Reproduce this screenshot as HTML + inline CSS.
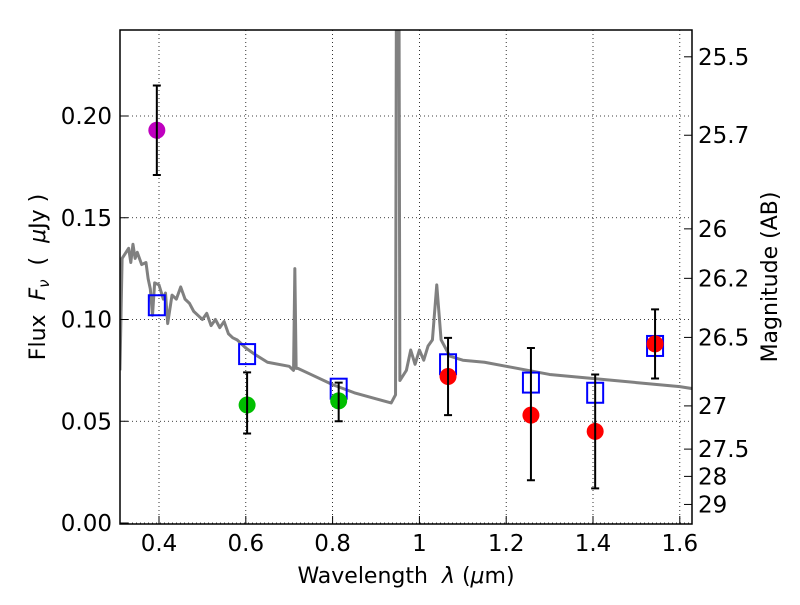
<!DOCTYPE html>
<html><head><meta charset="utf-8"><style>
body{margin:0;background:#fff}
svg{font-family:"DejaVu Sans","Liberation Sans",sans-serif}
.pre{white-space:pre}
</style></head><body>
<svg id="c" width="800" height="600" viewBox="0 0 800 600">
<defs><clipPath id="clip"><rect x="120" y="30" width="572" height="494"/></clipPath></defs>
<g id="grid"></g>
<g id="plot" clip-path="url(#clip)"></g>
<rect x="120" y="30" width="572" height="494" fill="none" stroke="#000" stroke-width="1.5"/>
<g id="ticks"></g>
<text class="pre" x="406" y="583" font-size="22" text-anchor="middle">Wavelength  <tspan font-style="italic">λ</tspan> (<tspan font-style="italic">μ</tspan>m)</text>
<text class="pre" transform="translate(45,277) rotate(-90)" font-size="22" text-anchor="middle">Flux  <tspan font-style="italic">F<tspan font-size="15" dy="4">ν</tspan></tspan><tspan dy="-4">  (  </tspan><tspan font-style="italic">μ</tspan>Jy )</text>
<text transform="translate(777,277) rotate(-90)" font-size="22" text-anchor="middle">Magnitude (AB)</text>
</svg>
<script>
const xTicks=[0.4,0.6,0.8,1.0,1.2,1.4,1.6];
const xTickLabels=["0.4","0.6","0.8","1","1.2","1.4","1.6"];
const yTicks=[0,0.05,0.10,0.15,0.20];
const yTickLabels=["0.00","0.05","0.10","0.15","0.20"];
const magTicks=[25.5,25.7,26,26.2,26.5,27,27.5,28,29];
const magTickLabels=["25.5","25.7","26","26.2","26.5","27","27.5","28","29"];
const specWave=[0.31,0.315,0.33,0.335,0.34,0.345,0.35,0.36,0.37,0.375,0.38,0.385,0.39,0.4,0.41,0.415,0.42,0.43,0.44,0.45,0.46,0.47,0.48,0.49,0.5,0.51,0.52,0.53,0.54,0.55,0.56,0.57,0.58,0.6,0.62,0.65,0.7,0.71,0.713,0.716,0.72,0.75,0.8,0.85,0.9,0.935,0.945,0.947,0.953,0.955,0.97,0.98,0.99,1.0,1.01,1.02,1.03,1.04,1.05,1.07,1.1,1.15,1.2,1.3,1.4,1.5,1.6,1.63];
const specFlux=[0.075,0.13,0.135,0.128,0.137,0.13,0.133,0.127,0.128,0.12,0.115,0.102,0.118,0.117,0.11,0.113,0.098,0.112,0.11,0.116,0.11,0.108,0.104,0.102,0.1,0.103,0.097,0.1,0.096,0.099,0.093,0.091,0.09,0.086,0.083,0.079,0.077,0.075,0.125,0.076,0.076,0.073,0.068,0.064,0.061,0.059,0.063,0.26,0.26,0.07,0.075,0.085,0.078,0.085,0.08,0.087,0.09,0.117,0.09,0.082,0.08,0.079,0.077,0.073,0.071,0.069,0.067,0.066];
const modelWave=[0.395,0.603,0.814,1.066,1.257,1.405,1.543];
const modelFlux=[0.107,0.083,0.066,0.078,0.069,0.064,0.087];
const obsWave=[0.395,0.603,0.814,1.066,1.257,1.405,1.543];
const obsFlux=[0.193,0.058,0.060,0.072,0.053,0.045,0.088];
const obsLo=[0.171,0.044,0.050,0.053,0.021,0.017,0.071];
const obsHi=[0.215,0.074,0.069,0.091,0.086,0.073,0.105];
const obsColor=["#bf00bf","#00bf00","#00bf00","#ff0000","#ff0000","#ff0000","#ff0000"];
const NS="http://www.w3.org/2000/svg";
const X=v=>159+(v-0.4)*434;
const Y=v=>523-v*2035;
function mk(tag,attrs,parent){const e=document.createElementNS(NS,tag);for(const k in attrs)e.setAttribute(k,attrs[k]);document.getElementById(parent).appendChild(e);return e;}
xTicks.forEach((t,i)=>{
 const g=mk('line',{x1:X(t),x2:X(t),y1:30,y2:524,stroke:'#000','stroke-dasharray':'1,3','stroke-width':0.8},'grid');
 
 const tk=mk('line',{x1:X(t),x2:X(t),y1:524,y2:516,stroke:'#000'},'ticks');
 
 const tx=mk('text',{x:X(t),y:551,'font-size':23,'text-anchor':'middle'},'ticks');tx.textContent=xTickLabels[i];
 
});
yTicks.forEach((t,i)=>{
 const g=mk('line',{x1:120,x2:692,y1:Y(t),y2:Y(t),stroke:'#000','stroke-dasharray':'1,3','stroke-width':0.8},'grid');
 
 const tk=mk('line',{x1:120,x2:128,y1:Y(t),y2:Y(t),stroke:'#000'},'ticks');
 
 const tx=mk('text',{x:112,y:Y(t)+8,'font-size':23,'text-anchor':'end'},'ticks');tx.textContent=yTickLabels[i];
 
});
magTicks.forEach((m,i)=>{
 const y=Y(Math.pow(10,(23.9-m)/2.5));
 const tk=mk('line',{x1:684,x2:692,y1:y,y2:y,stroke:'#000'},'ticks');
 
 const tx=mk('text',{x:698,y:y+8,'font-size':23},'ticks');tx.textContent=magTickLabels[i];
 
});
const sp=mk('polyline',{points:specWave.map((w,i)=>X(w)+','+Y(specFlux[i])).join(' '),fill:'none',stroke:'#808080','stroke-width':3,'stroke-linejoin':'round'},'plot');

modelWave.forEach((w,i)=>{
 const r=mk('rect',{x:X(w)-8,y:Y(modelFlux[i])-10,width:16,height:20,fill:'none',stroke:'#0000ff','stroke-width':2},'plot');
 
});
obsWave.forEach((w,i)=>{
 const x=X(w);
 const c=mk('circle',{cx:x,cy:Y(obsFlux[i]),r:8.5,fill:obsColor[i]},'plot');
 
 const e=mk('path',{d:`M${x},${Y(obsLo[i])}V${Y(obsHi[i])}M${x-4},${Y(obsLo[i])}H${x+4}M${x-4},${Y(obsHi[i])}H${x+4}`,stroke:'#000','stroke-width':2,fill:'none'},'plot');
 
});
</script>
</body></html>
